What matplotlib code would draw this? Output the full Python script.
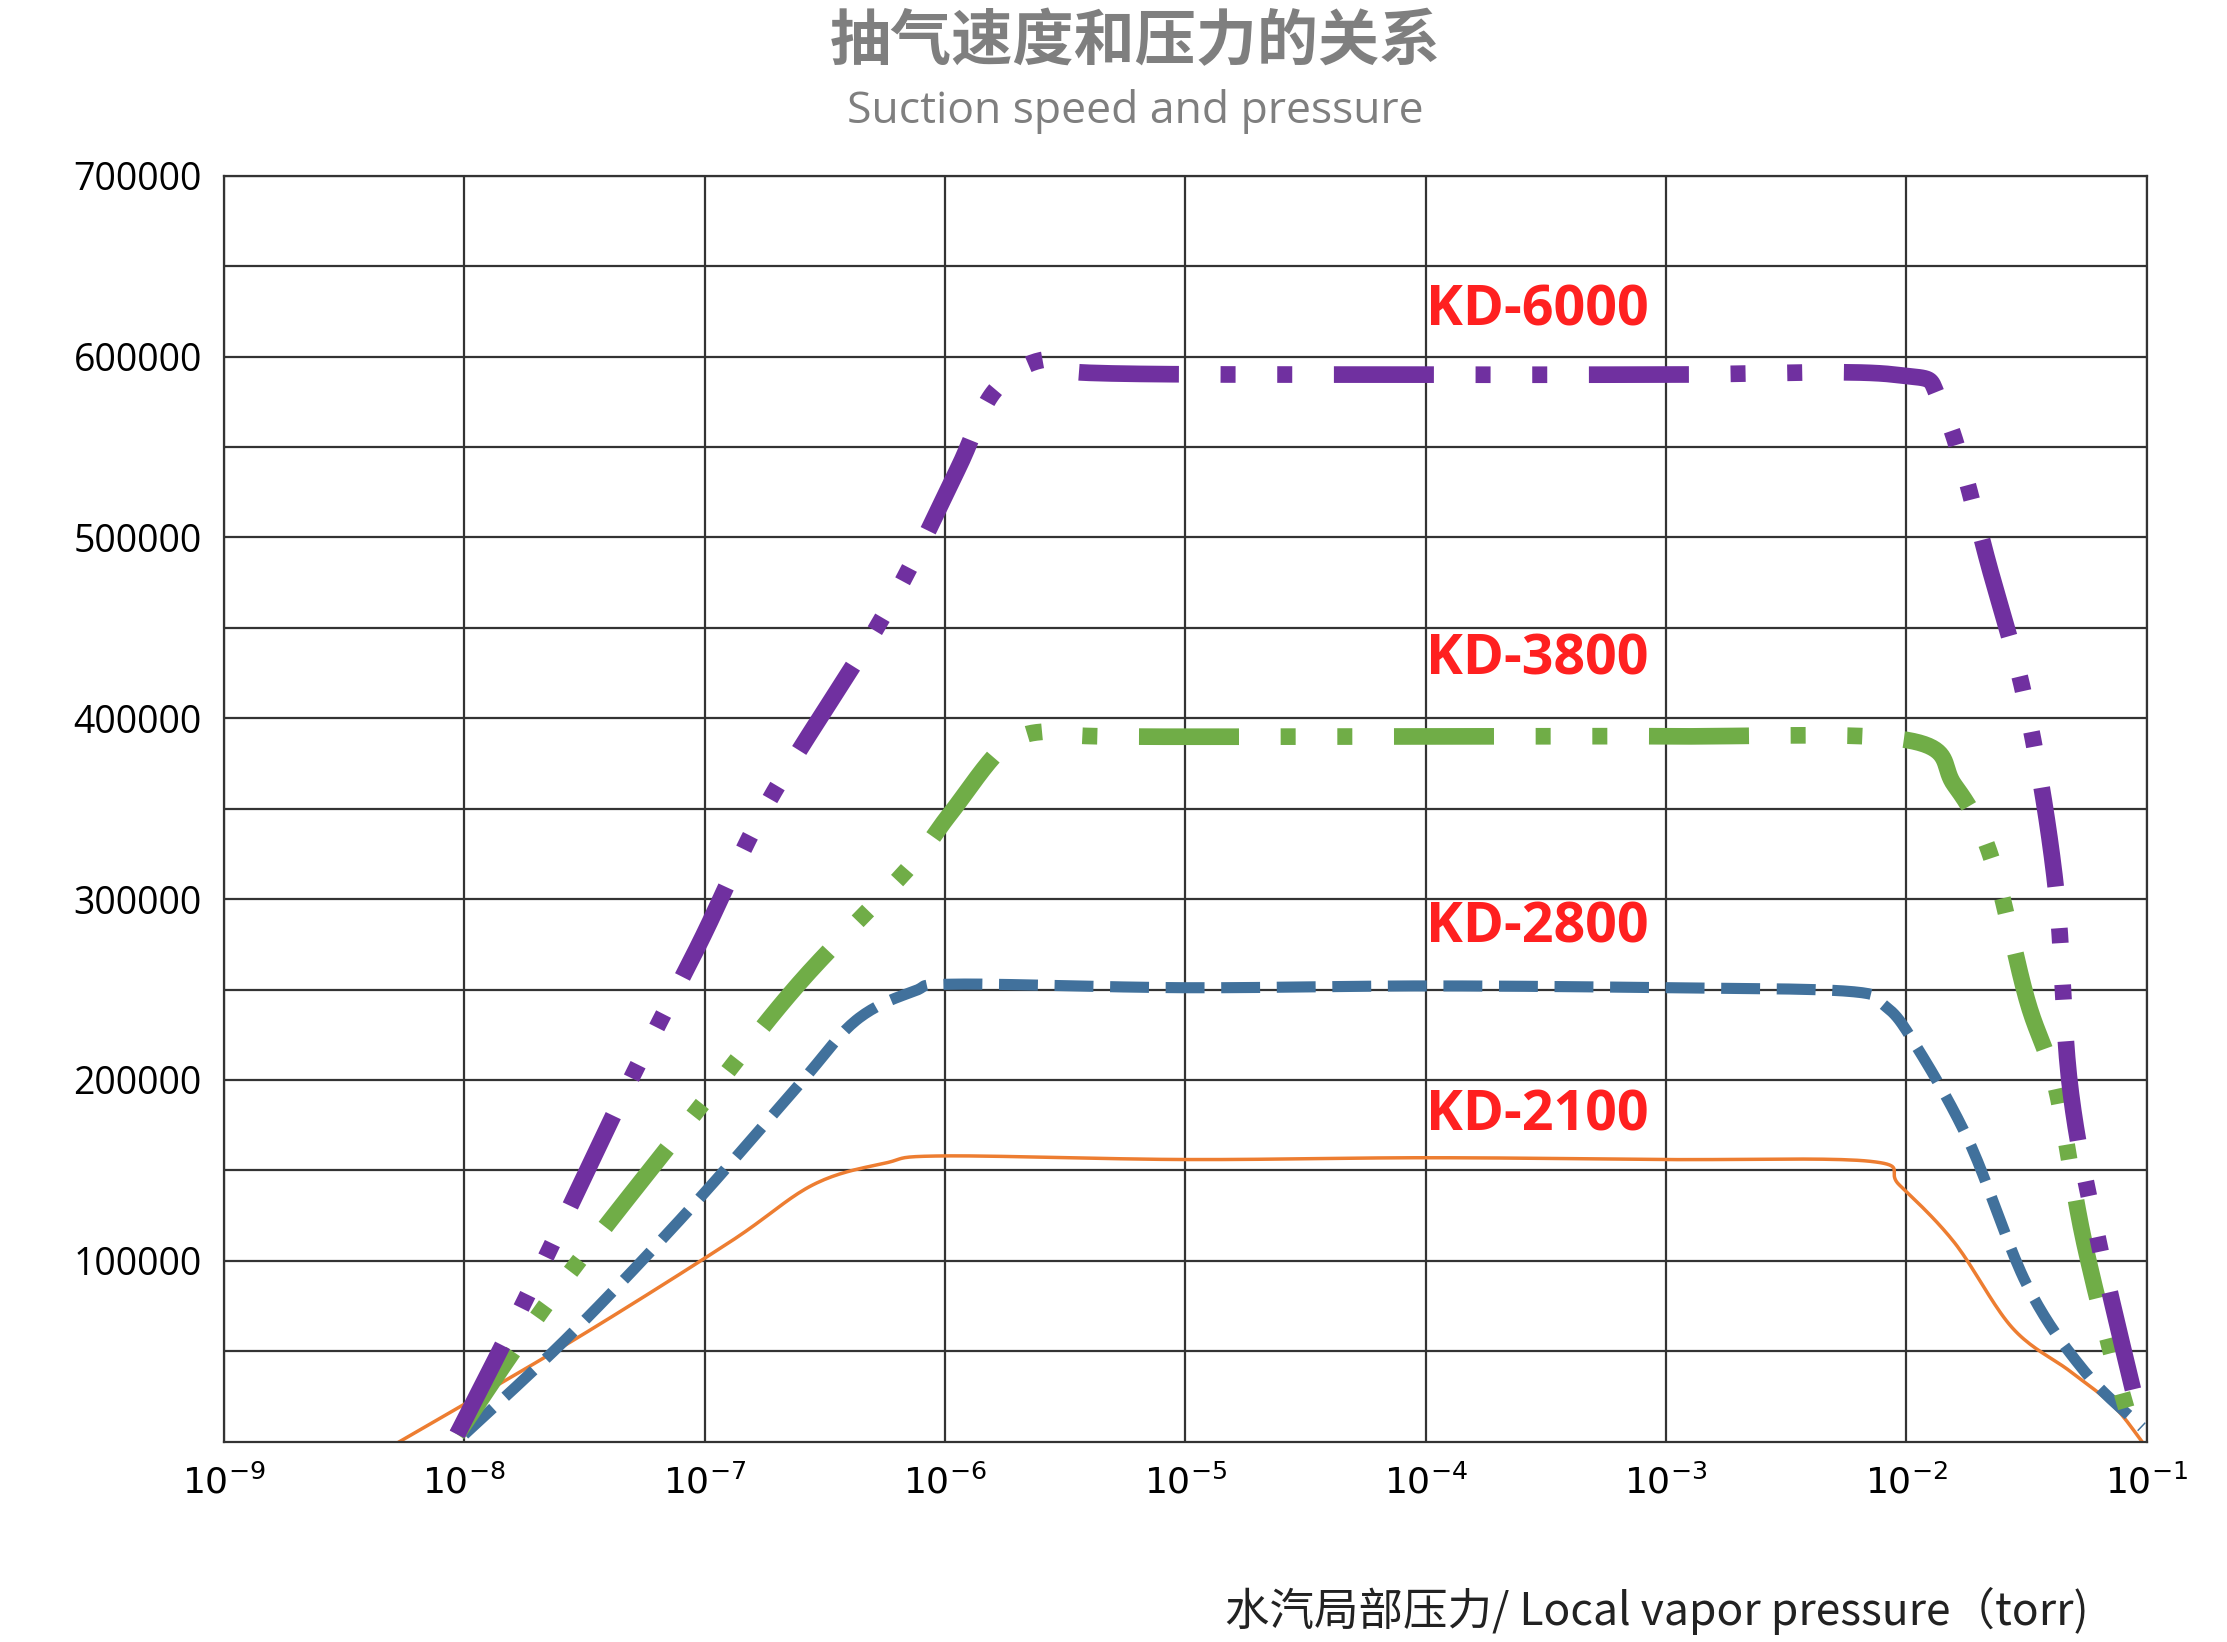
import matplotlib
matplotlib.use("Agg")
import matplotlib.pyplot as plt
import numpy as np

plt.rcParams['font.family'] = ['Noto Sans CJK SC', 'DejaVu Sans']

# log10(pressure), speed
kd6000_x = [-8.03, -7.73, -7.32, -7.02, -6.73, -6.25, -5.95, -5.8, -5.6, -5.4, -4.0, -3.0, -2.05, -1.85, -1.65, -1.5, -1.38, -1.32, -1.2, -1.02]
kd6000_y = [4000, 83000, 197000, 276000, 355000, 458000, 537000, 580000, 598000, 591000, 590000, 590000, 590000, 572000, 481000, 406000, 308000, 197000, 110000, 8000]
kd3800_x = [-8.03, -7.62, -7.02, -6.61, -6.16, -5.98, -5.75, -5.55, -5.35, -4.0, -3.0, -2.0, -1.8, -1.65, -1.5, -1.38, -1.26, -1.08, -1.02]
kd3800_y = [4000, 83000, 185000, 253000, 316000, 347000, 385000, 393000, 390000, 390000, 390000, 388000, 363000, 324000, 245000, 197000, 110000, 16000, 4000]
kd2800_x = [-8.0, -7.56, -7.08, -6.61, -6.37, -6.13, -5.95, -5.0, -4.0, -3.0, -2.24, -2.09, -1.97, -1.74, -1.5, -1.26, -1.02]
kd2800_y = [4000, 59000, 126000, 197000, 233000, 249000, 253000, 251000, 252000, 251000, 249000, 241000, 221000, 166000, 87000, 39000, 8000]
kd2100_x = [-8.27, -7.56, -6.9, -6.55, -6.25, -6.01, -5.0, -4.0, -3.0, -2.15, -2.03, -1.8, -1.56, -1.32, -1.14, -1.02]
kd2100_y = [0, 55000, 110000, 142000, 154000, 158000, 156000, 157000, 156000, 155000, 142000, 110000, 63000, 39000, 20000, 0]

labels = ["KD-6000", "KD-3800", "KD-2800", "KD-2100"]
label_y = [625000, 432000, 284000, 180000]
yticks = [100000, 200000, 300000, 400000, 500000, 600000, 700000]
xexp = list(range(-9, 0))

fig = plt.figure(figsize=(22.27, 16.42), dpi=100)
ax = fig.add_axes([0.1006, 0.122, 0.8634, 0.771])

def smooth(x, y):
    x = np.array(x, float); y = np.array(y, float)
    xs, ys = [], []
    P = np.column_stack([x, y])
    P = np.vstack([P[0], P, P[-1]])
    for i in range(1, len(P) - 2):
        p0, p1, p2, p3 = P[i-1], P[i], P[i+1], P[i+2]
        for s in np.linspace(0, 1, 20, endpoint=False):
            pt = 0.5 * ((2*p1) + (-p0+p2)*s + (2*p0-5*p1+4*p2-p3)*s**2 + (-p0+3*p1-3*p2+p3)*s**3)
            xs.append(pt[0]); ys.append(pt[1])
    xs.append(P[-2][0]); ys.append(P[-2][1])
    return 10 ** np.array(xs), np.array(ys)

x, y = smooth(kd6000_x, kd6000_y)
ax.plot(x, y, color='#7030a0', lw=12, dashes=(6, 2.5, 0.9, 2.5, 0.9, 2.5), zorder=5)
x, y = smooth(kd3800_x, kd3800_y)
ax.plot(x, y, color='#70ad47', lw=12, dashes=(6, 2.5, 0.9, 2.5, 0.9, 2.5), zorder=4)
x, y = smooth(kd2800_x, kd2800_y)
ax.plot(x, y, color='#41719c', lw=8, dashes=(3.5, 1.5), zorder=3)
x, y = smooth(kd2100_x, kd2100_y)
ax.plot(x, y, color='#ed7d31', lw=2.5, zorder=2)

ax.set_xscale('log')
ax.set_xlim(1e-9, 1e-1)
ax.set_ylim(0, 700000)
ax.set_xticks([10.0**e for e in xexp])
ax.set_xticklabels([f"10$^{{{e}}}$" for e in xexp], fontsize=26, family='DejaVu Sans')
ax.minorticks_off()
ax.set_yticks(yticks)
ax.set_yticklabels([str(v) for v in yticks], fontsize=27, family=['Open Sans', 'DejaVu Sans'])
ax.set_yticks(np.arange(50000, 700000, 100000), minor=True)
ax.tick_params(length=0, pad=16)
ax.tick_params(axis='y', which='minor', length=0)
ax.grid(True, which='both', color='#333333', lw=1.6)
for sp in ax.spines.values():
    sp.set_color('#333333'); sp.set_linewidth(1.6)

for lab, ly in zip(labels, label_y):
    ax.text(1e-4, ly, lab, color='#ff2020', fontsize=40, fontweight='bold',
            family=['Open Sans', 'DejaVu Sans'], ha='left', va='center', zorder=6)

fig.text(0.51, 0.974, "抽气速度和压力的关系", ha='center', va='center', fontsize=44,
         fontweight='bold', color='#7f7f7f')
fig.text(0.51, 0.932, "Suction speed and pressure", ha='center', va='center', fontsize=32,
         color='#7f7f7f', family=['Open Sans', 'DejaVu Sans'])
fig.text(0.744, 0.019, "水汽局部压力/ Local vapor pressure（torr)", ha='center', va='center',
         fontsize=32, color='#222222')

fig.savefig("out.png", dpi=100, facecolor='white')
